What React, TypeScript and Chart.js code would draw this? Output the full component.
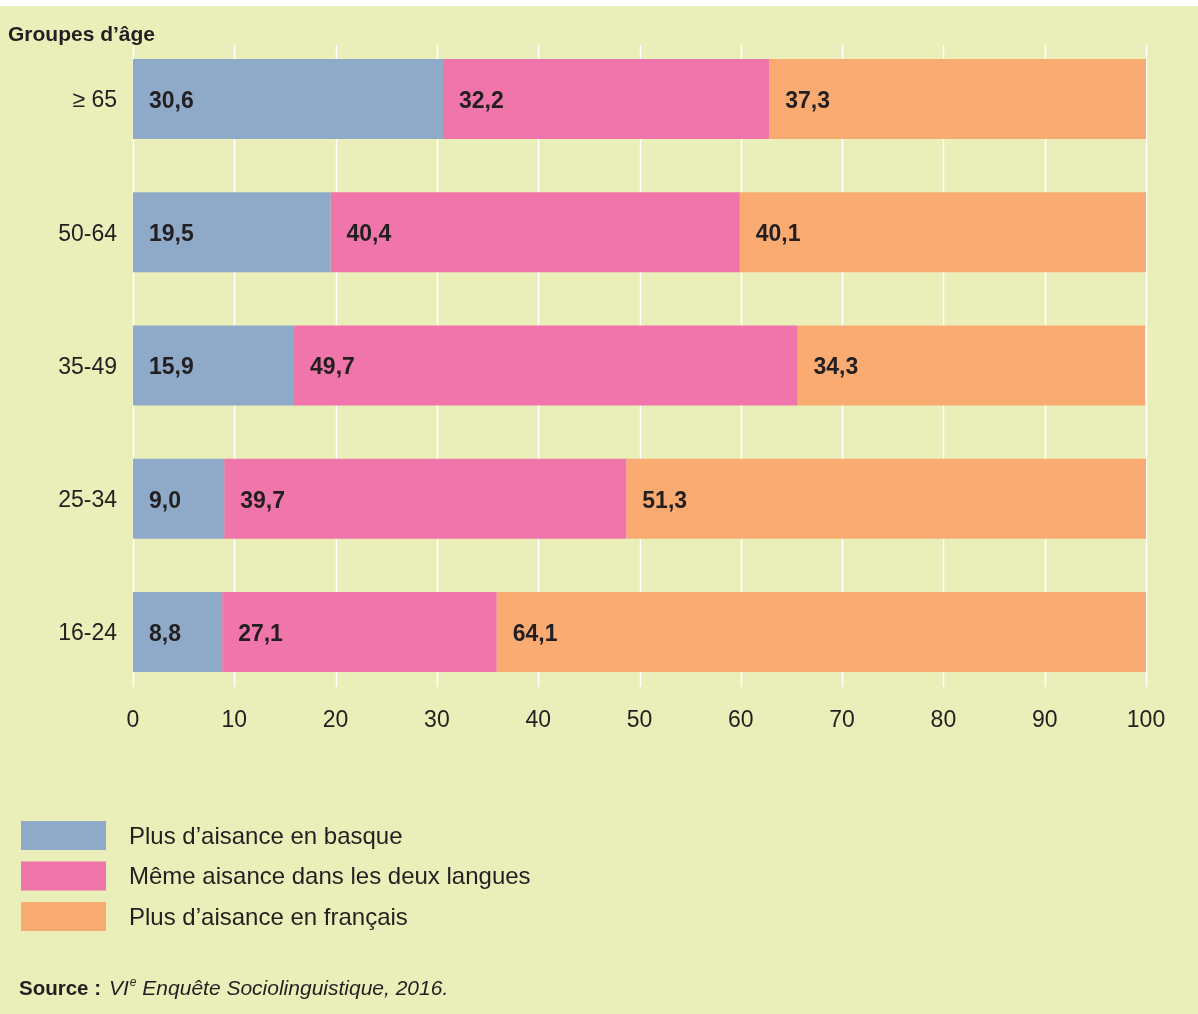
import React, { useEffect, useRef } from "react";
import { Chart, registerables } from "chart.js";

Chart.register(...registerables);

const ageGroups = ["≥ 65", "50-64", "35-49", "25-34", "16-24"];
const seriesNames = [
  "Plus d’aisance en basque",
  "Même aisance dans les deux langues",
  "Plus d’aisance en français",
];
const basqueValues = [30.6, 19.5, 15.9, 9.0, 8.8];
const bothValues = [32.2, 40.4, 49.7, 39.7, 27.1];
const frenchValues = [37.3, 40.1, 34.3, 51.3, 64.1];
const xTickValues = [0, 10, 20, 30, 40, 50, 60, 70, 80, 90, 100];
const axisTitle = "Groupes d’âge";
const sourceBold = "Source :";
const sourceRoman = "VI";
const sourceSup = "e";
const sourceRest = " Enquête Sociolinguistique, 2016.";

const COLORS = ["#8FAAC9", "#F075AA", "#F9AB72"];
const BG = "#EAEEB9";
const TEXT = "#231F20";
const FONT = '"Liberation Sans", Arial, sans-serif';

const W = 1198;
const H = 1014;

export default function App() {
  const ref = useRef<HTMLCanvasElement | null>(null);

  useEffect(() => {
    document.body.style.margin = "0";
    const canvas = ref.current;
    if (!canvas) return;

    const bgPlugin = {
      id: "bgPlugin",
      beforeDraw(c: any) {
        const ctx = c.ctx;
        ctx.save();
        ctx.fillStyle = "#FFFFFF";
        ctx.fillRect(0, 0, W, H);
        ctx.fillStyle = BG;
        ctx.fillRect(0, 6, W, H - 6);
        ctx.restore();
      },
    };

    const gridPlugin = {
      id: "gridPlugin",
      beforeDatasetsDraw(c: any) {
        const ctx = c.ctx;
        const xs = c.scales.x;
        const ys = c.scales.y;
        const top = ys.getPixelForValue(0) - 54;
        const bottom = ys.getPixelForValue(ageGroups.length - 1) + 55;
        ctx.save();
        ctx.strokeStyle = "#FFFFFF";
        ctx.lineWidth = 1.5;
        xTickValues.forEach((v) => {
          const x = Math.round(xs.getPixelForValue(v)) + 0.5;
          ctx.beginPath();
          ctx.moveTo(x, top);
          ctx.lineTo(x, bottom);
          ctx.stroke();
        });
        ctx.restore();
      },
    };

    const labelsPlugin = {
      id: "labelsPlugin",
      afterDatasetsDraw(c: any) {
        const ctx = c.ctx;
        ctx.save();
        ctx.fillStyle = TEXT;
        ctx.font = `bold 23px ${FONT}`;
        ctx.textAlign = "left";
        ctx.textBaseline = "middle";
        c.data.datasets.forEach((ds: any, di: number) => {
          const meta = c.getDatasetMeta(di);
          meta.data.forEach((el: any, i: number) => {
            const v = ds.data[i] as number;
            const txt = v.toFixed(1).replace(".", ",");
            ctx.fillText(txt, Math.min(el.base, el.x) + 16, el.y + 2.5);
          });
        });
        ctx.restore();
      },
    };

    const extrasPlugin = {
      id: "extrasPlugin",
      afterDraw(c: any) {
        const ctx = c.ctx;
        ctx.save();
        ctx.fillStyle = TEXT;
        ctx.textBaseline = "middle";
        ctx.textAlign = "left";
        ctx.font = `bold 21px ${FONT}`;
        ctx.fillText(axisTitle, 8, 35);

        c.data.datasets.forEach((ds: any, i: number) => {
          const y = 821 + i * 40.5;
          ctx.fillStyle = ds.backgroundColor;
          ctx.fillRect(21, y, 85, 29);
          ctx.fillStyle = TEXT;
          ctx.font = `24px ${FONT}`;
          ctx.fillText(ds.label, 129, y + 16);
        });

        const sy = 989;
        let x = 19;
        ctx.font = `bold 20.5px ${FONT}`;
        ctx.fillText(sourceBold, x, sy);
        ctx.font = `italic 21px ${FONT}`;
        x = 109;
        ctx.fillText(sourceRoman, x, sy);
        x += ctx.measureText(sourceRoman).width + 1;
        ctx.font = `italic 12px ${FONT}`;
        ctx.fillText(sourceSup, x, sy - 6);
        x += ctx.measureText(sourceSup).width;
        ctx.font = `italic 21px ${FONT}`;
        ctx.fillText(sourceRest, x, sy);
        ctx.restore();
      },
    };

    const chart = new Chart(canvas, {
      type: "bar",
      data: {
        labels: ageGroups,
        datasets: [
          { label: seriesNames[0], data: basqueValues, backgroundColor: COLORS[0] },
          { label: seriesNames[1], data: bothValues, backgroundColor: COLORS[1] },
          { label: seriesNames[2], data: frenchValues, backgroundColor: COLORS[2] },
        ],
      },
      options: {
        indexAxis: "y",
        responsive: false,
        animation: false,
        devicePixelRatio: 1,
        layout: { padding: { top: 32.4, right: 52, left: 0, bottom: 0 } },
        datasets: {
          bar: {
            categoryPercentage: 1,
            barPercentage: 0.6,
            borderWidth: 0,
          },
        },
        plugins: {
          legend: { display: false },
          tooltip: { enabled: false },
          title: { display: false },
        },
        scales: {
          x: {
            type: "linear",
            stacked: true,
            min: 0,
            max: 100,
            afterFit(scale: any) {
              scale.height = H - 698.6;
            },
            afterBuildTicks(scale: any) {
              scale.ticks = xTickValues.map((v) => ({ value: v }));
            },
            grid: { display: false, drawTicks: false },
            border: { display: false },
            ticks: {
              color: TEXT,
              font: { family: FONT, size: 23 },
              padding: 8,
              maxRotation: 0,
              autoSkip: false,
            },
          },
          y: {
            type: "category",
            stacked: true,
            offset: true,
            afterFit(scale: any) {
              scale.width = 133;
            },
            grid: { display: false, drawTicks: false },
            border: { display: false },
            ticks: {
              color: TEXT,
              font: { family: FONT, size: 23 },
              padding: 16,
              labelOffset: 2,
            },
          },
        },
      },
      plugins: [bgPlugin, gridPlugin, labelsPlugin, extrasPlugin],
    } as any);

    return () => {
      chart.destroy();
    };
  }, []);

  return (
    <div style={{ position: "absolute", left: 0, top: 0, width: W, height: H }}>
      <canvas ref={ref} width={W} height={H} style={{ width: W, height: H, display: "block" }} />
    </div>
  );
}
